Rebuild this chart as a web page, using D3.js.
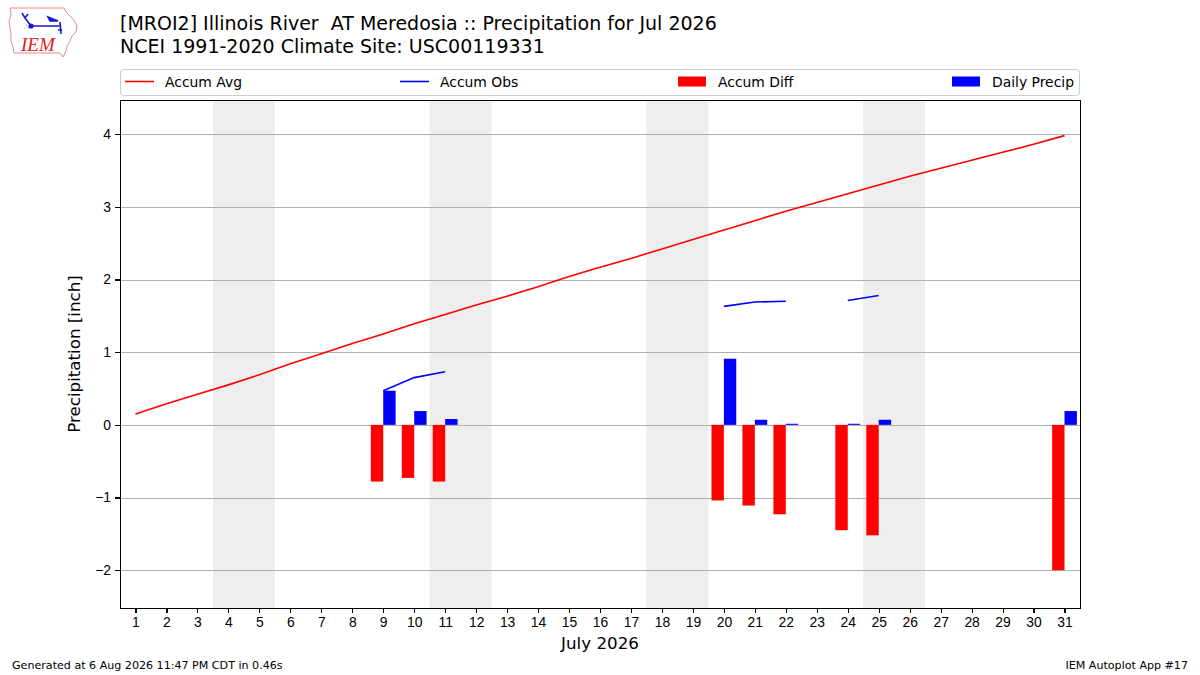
<!DOCTYPE html>
<html>
<head>
<title>MROI2 Precipitation Jul 2026</title>
<style>
  body { margin: 0; background: #fff; }
  svg { font-family: "DejaVu Sans", sans-serif; }
  .axis path, .axis line { stroke: #000; shape-rendering: crispEdges; }
  .axis text { font-size: 13.9px; fill: #000; }
  .grid line { stroke: #b0b0b0; stroke-width: 1.1px; shape-rendering: crispEdges; }
</style>
</head>
<body>
<script src="https://cdn.jsdelivr.net/npm/d3@7/dist/d3.min.js"></script>
<script>

// day of month
var days = [1, 2, 3, 4, 5, 6, 7, 8, 9, 10, 11, 12, 13, 14, 15, 16,
            17, 18, 19, 20, 21, 22, 23, 24, 25, 26, 27, 28, 29, 30, 31];

// climatology accumulated precip [inch]
var accumAvg = [0.15, 0.29, 0.42, 0.55, 0.69, 0.84, 0.98, 1.12, 1.25, 1.39, 1.52,
                1.65, 1.77, 1.90, 2.04, 2.17, 2.29, 2.42, 2.55, 2.68, 2.81, 2.94,
                3.06, 3.18, 3.30, 3.42, 3.53, 3.64, 3.75, 3.86, 3.98];

// observed accumulated precip (null = missing)
var accumObs = [null, null, null, null, null, null, null, null, 0.47, 0.65, 0.73,
                null, null, null, null, null, null, null, null, 1.63, 1.69, 1.70,
                null, 1.71, 1.78, null, null, null, null, null, 1.97];

// observed minus average
var accumDiff = [null, null, null, null, null, null, null, null, -0.78, -0.73, -0.78,
                 null, null, null, null, null, null, null, null, -1.04, -1.11, -1.23,
                 null, -1.45, -1.52, null, null, null, null, null, -2.00];

// daily precip
var dailyPrecip = [null, null, null, null, null, null, null, null, 0.47, 0.19, 0.08,
                   null, null, null, null, null, null, null, null, 0.91, 0.07, 0.015,
                   null, 0.015, 0.07, null, null, null, null, null, 0.19];

// weekend spans (start day of each sat/sun pair)
var weekends = [4, 11, 18, 25];

var yTicks = [-2, -1, 0, 1, 2, 3, 4];

var titleLines = ["[MROI2] Illinois River  AT Meredosia :: Precipitation for Jul 2026",
                  "NCEI 1991-2020 Climate Site: USC00119331"];

var W = 1200, H = 675;
var margin = {top: 100, right: 120, bottom: 67, left: 120},
    width = W - margin.left - margin.right,
    height = H - margin.top - margin.bottom;

var svg = d3.select("body").append("svg")
    .attr("width", W)
    .attr("height", H);

var x = d3.scaleLinear().domain([0.5, 31.5]).range([0, width]);
var y = d3.scaleLinear().domain([-2.52, 4.47]).range([height, 0]);
var barW = x(1.4) - x(1);

var rows = days.map(function (d, i) {
    return {day: d, avg: accumAvg[i], obs: accumObs[i], diff: accumDiff[i], daily: dailyPrecip[i]};
});

var g = svg.append("g")
    .attr("transform", "translate(" + margin.left + "," + margin.top + ")");

g.append("clipPath").attr("id", "clip")
  .append("rect").attr("width", width).attr("height", height);

var plot = g.append("g").attr("clip-path", "url(#clip)");

// weekend shading
plot.selectAll(".wk")
    .data(weekends)
  .enter().append("rect")
    .attr("class", "wk")
    .attr("x", function (d) { return x(d - 0.5); })
    .attr("width", function (d) { return x(d + 1.5) - x(d - 0.5); })
    .attr("y", 0)
    .attr("height", height)
    .style("fill", "#eeeeee");

// grid
plot.append("g")
    .attr("class", "grid")
    .selectAll("line")
    .data(yTicks)
  .enter().append("line")
    .attr("x1", 0).attr("x2", width)
    .attr("y1", function (d) { return Math.round(y(d)) + 0.5; })
    .attr("y2", function (d) { return Math.round(y(d)) + 0.5; });

// accum diff bars (left of day)
plot.selectAll(".diff")
    .data(rows.filter(function (d) { return d.diff != null; }))
  .enter().append("rect")
    .attr("class", "diff")
    .attr("x", function (d) { return x(d.day) - barW; })
    .attr("width", barW)
    .attr("y", function (d) { return y(Math.max(0, d.diff)); })
    .attr("height", function (d) { return Math.abs(y(d.diff) - y(0)); })
    .style("fill", "#ff0000");

// daily bars (right of day)
plot.selectAll(".daily")
    .data(rows.filter(function (d) { return d.daily != null; }))
  .enter().append("rect")
    .attr("class", "daily")
    .attr("x", function (d) { return x(d.day); })
    .attr("width", barW)
    .attr("y", function (d) { return y(d.daily); })
    .attr("height", function (d) { return y(0) - y(d.daily); })
    .style("fill", "#0000ff");

var avgLine = d3.line()
    .x(function (d) { return x(d.day); })
    .y(function (d) { return y(d.avg); });

var obsLine = d3.line()
    .defined(function (d) { return d.obs != null; })
    .x(function (d) { return x(d.day); })
    .y(function (d) { return y(d.obs); });

plot.append("path")
    .datum(rows)
    .attr("d", avgLine)
    .style("fill", "none")
    .style("stroke", "#ff0000")
    .style("stroke-width", 1.6);

plot.append("path")
    .datum(rows)
    .attr("d", obsLine)
    .style("fill", "none")
    .style("stroke", "#0000ff")
    .style("stroke-width", 1.6);

// axes
g.append("g")
    .attr("class", "x axis")
    .attr("transform", "translate(0," + height + ")")
    .call(d3.axisBottom(x).tickValues(days).tickSize(5).tickPadding(4).tickSizeOuter(0))
    .select(".domain").remove();

g.append("g")
    .attr("class", "y axis")
    .call(d3.axisLeft(y).tickValues(yTicks).tickFormat(d3.format("d"))
        .tickSize(5).tickPadding(4).tickSizeOuter(0))
    .select(".domain").remove();

g.selectAll(".axis .tick line").style("stroke-width", 1.1);

// frame
g.append("rect")
    .attr("x", 0.5).attr("y", 0.5)
    .attr("width", width).attr("height", height)
    .style("fill", "none")
    .style("stroke", "#000")
    .style("stroke-width", 1.1)
    .style("shape-rendering", "crispEdges");

// axis labels
svg.append("text")
    .attr("x", W / 2).attr("y", 649)
    .attr("text-anchor", "middle")
    .style("font-size", "16.7px")
    .text("July 2026");

svg.append("text")
    .attr("transform", "translate(80," + (margin.top + height / 2) + ") rotate(-90)")
    .attr("text-anchor", "middle")
    .style("font-size", "16.7px")
    .text("Precipitation [inch]");

// title
svg.selectAll(".title")
    .data(titleLines)
  .enter().append("text")
    .attr("class", "title")
    .attr("x", 120)
    .attr("y", function (d, i) { return 30 + i * 23; })
    .style("font-size", "19px")
    .style("white-space", "pre")
    .attr("xml:space", "preserve")
    .text(function (d) { return d; });

// legend
var legend = svg.append("g");
legend.append("rect")
    .attr("x", 120.5).attr("y", 69.5)
    .attr("width", 959).attr("height", 26)
    .attr("rx", 3)
    .style("fill", "#fff")
    .style("stroke", "#cccccc");

var legendItems = [
    {label: "Accum Avg", type: "line", color: "#ff0000", x: 125},
    {label: "Accum Obs", type: "line", color: "#0000ff", x: 400},
    {label: "Accum Diff", type: "rect", color: "#ff0000", x: 678},
    {label: "Daily Precip", type: "rect", color: "#0000ff", x: 952}
];

legendItems.forEach(function (it) {
    if (it.type === "line") {
        legend.append("line")
            .attr("x1", it.x).attr("x2", it.x + 29)
            .attr("y1", 81.5).attr("y2", 81.5)
            .style("stroke", it.color).style("stroke-width", 1.6);
    } else {
        legend.append("rect")
            .attr("x", it.x).attr("y", 76.5)
            .attr("width", 28).attr("height", 10)
            .style("fill", it.color);
    }
    legend.append("text")
        .attr("x", it.x + 40).attr("y", 86.5)
        .style("font-size", "13.9px")
        .text(it.label);
});

// footer
svg.append("text")
    .attr("x", 12).attr("y", 669)
    .style("font-size", "11.1px")
    .text("Generated at 6 Aug 2026 11:47 PM CDT in 0.46s");

svg.append("text")
    .attr("x", 1188).attr("y", 669)
    .attr("text-anchor", "end")
    .style("font-size", "11.1px")
    .text("IEM Autoplot App #17");

// IEM logo (rough sketch)
var logo = svg.append("g");
logo.append("path")
    .attr("d", "M10,8 L64,8 L66,12 L70,16 L74,20 L77,26 L76,32 L72,36 L70,41 L67,46 L66,51 L63,57 L60,53 L14,53 L13,47 L11,41 L11,34 L10,28 L9,21 L11,15 Z")
    .style("fill", "#fff")
    .style("stroke", "#e88")
    .style("stroke-width", 1);
logo.append("path")
    .attr("d", "M31,26 L60,26 M31,26 L25,18 M25,18 L22,13 M25,18 L28,14 M60,22 L61,34 M58,30 L62,30 M48,17 L58,21 L50,21 Z")
    .style("fill", "#1a1acc")
    .style("stroke", "#1a1acc")
    .style("stroke-width", 1.6);
logo.append("circle").attr("cx", 31).attr("cy", 26).attr("r", 2.6).style("fill", "#1a1acc");
logo.append("text")
    .attr("x", 24).attr("y", 29)
    .style("font-size", "7px")
    .style("fill", "#1a1acc")
    .text("∴");
logo.append("text")
    .attr("x", 21).attr("y", 51)
    .style("font-family", "'Liberation Serif', serif")
    .style("font-style", "italic")
    .style("font-size", "19px")
    .style("fill", "#dd2222")
    .text("IEM");

</script>
</body>
</html>
